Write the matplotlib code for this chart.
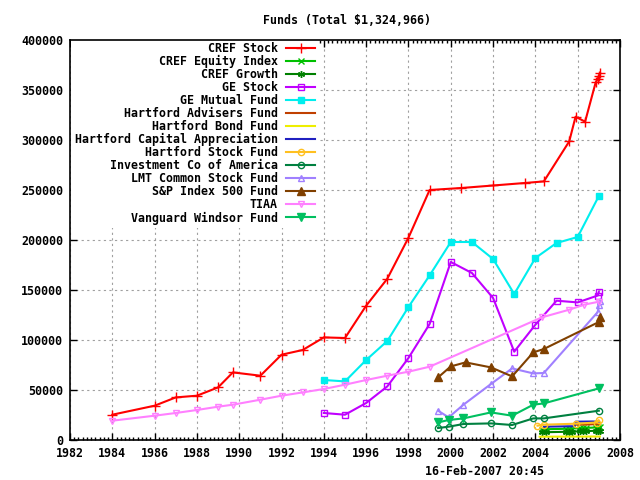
import matplotlib
matplotlib.use("Agg")
import matplotlib.pyplot as plt
from matplotlib.ticker import MultipleLocator

plt.rcParams['font.family'] = ['DejaVu Sans Mono']
plt.rcParams['font.weight'] = 'bold'
plt.rcParams['font.size'] = 8.4

# --- dados ---
cref_stock_x = [1984.0, 1986.0, 1987.0, 1988.0, 1989.0, 1989.7, 1991.0, 1992.0, 1993.0,
                1994.0, 1995.0, 1996.0, 1997.0, 1998.0, 1999.0, 2000.5, 2002.0, 2003.5,
                2004.4, 2005.6, 2005.9, 2006.35, 2006.85, 2006.95, 2007.0, 2007.05]
cref_stock_y = [25300, 34300, 42600, 44300, 52600, 67600, 64300, 85300, 90000,
                102600, 102000, 134300, 161300, 202300, 250000, 252000, 254500, 257000,
                258600, 298600, 323300, 318300, 357600, 361300, 364000, 366600]

cref_small_x = [2004.3, 2004.5, 2005.45, 2005.6, 2005.75, 2006.1, 2006.25, 2006.4,
                2006.85, 2006.95, 2007.05]
cref_equity_y = [10500, 10800, 11200, 11300, 11500, 11800, 12000, 12100, 12500, 12700, 12900]
cref_growth_y = [7600, 7800, 8200, 8300, 8400, 8700, 8800, 8900, 9200, 9300, 9500]

ge_x = [1994.0, 1995.0, 1996.0, 1997.0, 1998.0, 1999.0, 2000.0, 2001.0, 2002.0,
        2003.0, 2004.0, 2005.0, 2006.0, 2007.0]
ge_mutual_y = [60000, 58600, 80000, 99000, 133000, 164600, 198000, 198000, 181000,
               146000, 182000, 197000, 203000, 244000]
ge_stock_x = [1994.0, 1995.0, 1996.0, 1997.0, 1998.0, 1999.0, 2000.0, 2001.0, 2002.0,
              2003.0, 2004.0, 2005.0, 2006.0, 2006.95, 2007.0]
ge_stock_y = [27000, 25300, 37000, 53600, 82000, 116000, 178000, 167000, 142000,
              88300, 115300, 139300, 137600, 144500, 148000]

h_adv_x = [2005.85, 2006.5, 2007.0]
h_adv_y = [15300, 15500, 16000]
h_bond_x = [2004.2, 2005.5, 2007.05]
h_bond_y = [3300, 3400, 3500]
h_cap_x = [2004.4, 2005.85, 2005.9, 2006.7, 2007.0]
h_cap_y = [13300, 13800, 18300, 18500, 18300]
h_stock_x = [2004.1, 2004.4, 2005.9, 2006.9, 2007.0]
h_stock_y = [14300, 15300, 16300, 17500, 19600]

late_x = [1999.4, 1999.9, 2000.6, 2001.9, 2002.9, 2003.9, 2004.4, 2007.0]
ica_y = [12000, 13300, 16000, 16600, 15000, 21600, 21600, 29300]
vanguard_y = [17600, 20000, 21600, 27600, 24300, 35300, 36600, 51600]

lmt_x = [1999.4, 1999.9, 2000.6, 2001.9, 2002.9, 2003.9, 2004.4, 2006.95, 2007.0, 2007.05]
lmt_y = [29300, 22600, 35300, 56000, 71600, 66600, 67000, 128000, 135000, 139000]

sp_x = [1999.4, 2000.0, 2000.7, 2001.9, 2002.9, 2003.9, 2004.4, 2007.0, 2007.05]
sp_y = [62600, 73600, 77600, 72600, 63600, 87600, 91000, 118000, 122600]

tiaa_x = [1984.0, 1986.0, 1987.0, 1988.0, 1989.0, 1989.7, 1991.0, 1992.0, 1993.0,
          1994.0, 1995.0, 1996.0, 1997.0, 1998.0, 1999.0, 2004.3, 2005.6, 2006.3, 2007.0]
tiaa_y = [19300, 24300, 27000, 30000, 33300, 35300, 40300, 44300, 47600,
          51000, 55300, 60000, 64300, 68300, 73300, 122600, 130300, 135300, 138300]

# (rotulo, x, y, cor, marcador, preenchido, tamanho)
series = [
    ("CREF Stock", cref_stock_x, cref_stock_y, '#ff0000', '+', True, 6.5),
    ("CREF Equity Index", cref_small_x, cref_equity_y, '#00c000', 'x', True, 4.5),
    ("CREF Growth", cref_small_x, cref_growth_y, '#008000', (6, 2, 0), True, 5),
    ("GE Stock", ge_stock_x, ge_stock_y, '#c000ff', 's', False, 4.8),
    ("GE Mutual Fund", ge_x, ge_mutual_y, '#00eeee', 's', True, 5),
    ("Hartford Advisers Fund", h_adv_x, h_adv_y, '#c04000', None, True, 5),
    ("Hartford Bond Fund", h_bond_x, h_bond_y, '#eeee00', None, True, 5),
    ("Hartford Capital Appreciation", h_cap_x, h_cap_y, '#2020c0', None, True, 5),
    ("Hartford Stock Fund", h_stock_x, h_stock_y, '#ffc020', 'o', False, 4.5),
    ("Investment Co of America", late_x, ica_y, '#008040', 'o', False, 4.5),
    ("LMT Common Stock Fund", lmt_x, lmt_y, '#a080ff', '^', False, 5),
    ("S&P Index 500 Fund", sp_x, sp_y, '#804000', '^', True, 5.5),
    ("TIAA", tiaa_x, tiaa_y, '#ff80ff', 'v', False, 5),
    ("Vanguard Windsor Fund", late_x, vanguard_y, '#00c060', 'v', True, 5.5),
]

fig = plt.figure(figsize=(6.4, 4.8), dpi=100)
ax = fig.add_axes([70 / 640, 40 / 480, 550 / 640, 400 / 480])

for label, xs, ys, cor, mk, cheio, ms in series:
    ax.plot(xs, ys, color=cor, lw=1.5, marker=mk, markersize=ms,
            markerfacecolor=cor if cheio else 'none', markeredgecolor=cor,
            markeredgewidth=1.0, label=label)

ax.set_xlim(1982, 2008)
ax.set_ylim(0, 400000)
ax.xaxis.set_major_locator(MultipleLocator(2))
ax.xaxis.set_minor_locator(MultipleLocator(0.2))
ax.yaxis.set_major_locator(MultipleLocator(50000))
ax.tick_params(which='both', direction='in', top=True, right=True, width=1)
ax.tick_params(which='major', length=5, pad=5)
ax.tick_params(which='minor', length=2.5)
ax.grid(True, which='major', color='#a0a0a0', linestyle=(0, (2, 3)), linewidth=0.8)
for sp in ax.spines.values():
    sp.set_linewidth(1.2)

leg = ax.legend(loc='upper right', bbox_to_anchor=(0.452, 1.003), borderaxespad=0,
                borderpad=0.3, markerfirst=False, handlelength=2.5, handletextpad=0.7,
                labelspacing=0.0, frameon=True, fancybox=False, framealpha=1,
                edgecolor='none', facecolor='white', numpoints=1)
leg._legend_handle_box.get_children()[0].align = 'right'
leg.set_zorder(2.2)

fig.text(0.542, 0.958, "Funds (Total \\$1,324,966)", ha='center', va='center')
fig.text(0.757, 0.017, "16-Feb-2007 20:45", ha='center', va='center')

fig.savefig("out.png", dpi=100)
